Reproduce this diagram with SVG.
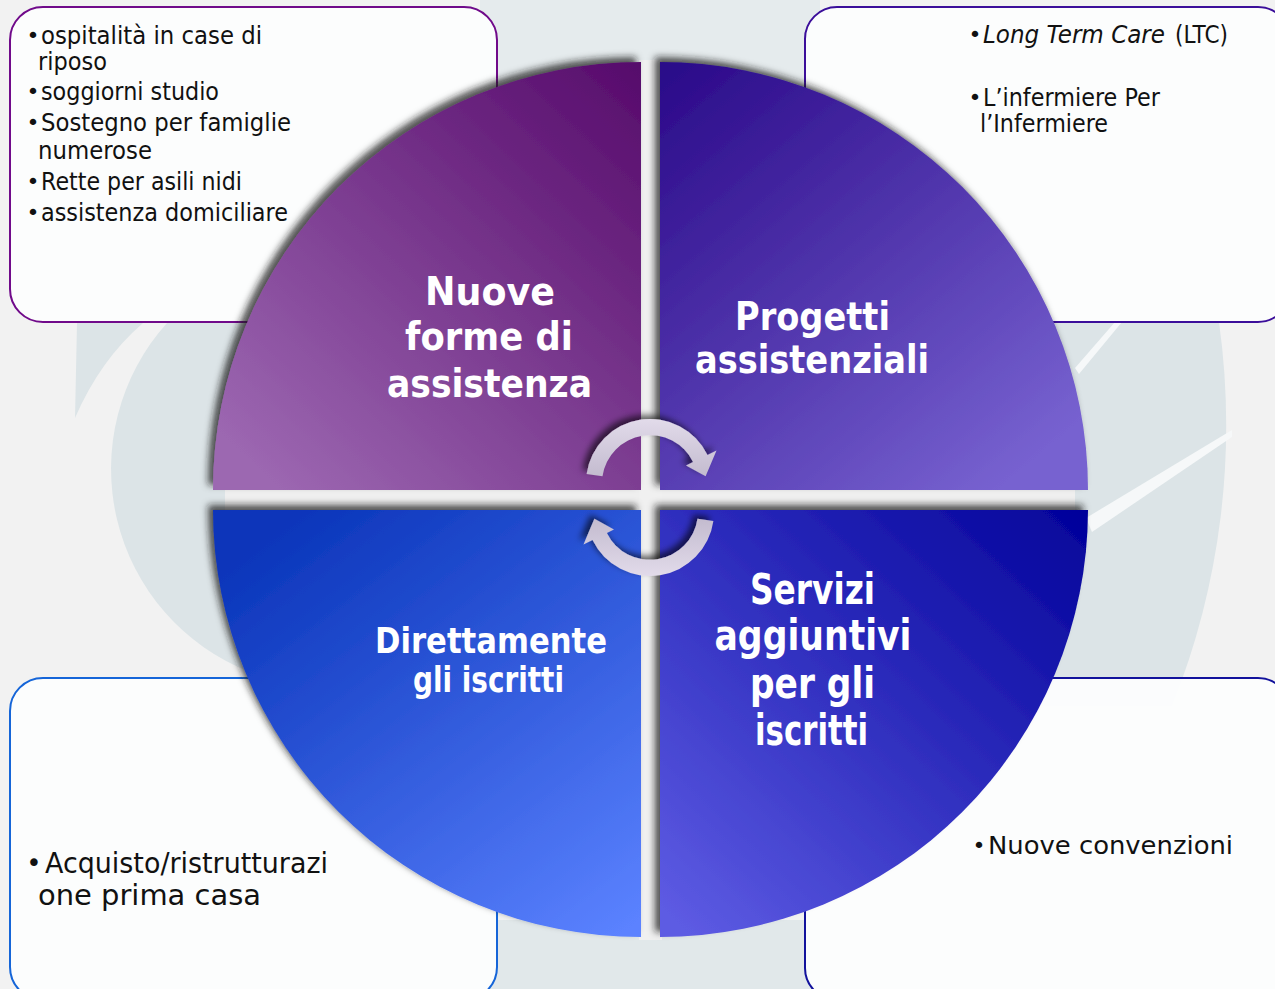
<svg xmlns="http://www.w3.org/2000/svg" width="1275" height="989" viewBox="0 0 1275 989">
<defs>
<style>
.body{font-family:"DejaVu Sans","Liberation Sans",sans-serif;font-size:24px;fill:#111;}
.big{font-size:28px;}
.it{font-style:italic;}
.title{font-family:"DejaVu Sans","Liberation Sans",sans-serif;font-weight:bold;fill:#fff;text-anchor:middle;}
.bul{font-family:"DejaVu Sans",sans-serif;font-size:22px;fill:#111;text-anchor:middle;}
.box{fill:#fdfefe;fill-opacity:0.93;stroke-width:2;}
.bg{fill:#dce4e7;}
</style>
<filter id="sh" filterUnits="userSpaceOnUse" x="150" y="0" width="1000" height="989">
<feGaussianBlur in="SourceAlpha" stdDeviation="3.5"/>
<feOffset dx="-5" dy="-5" result="b"/>
<feFlood flood-color="#1a1a1a" flood-opacity="0.75"/>
<feComposite in2="b" operator="in" result="s"/>
<feMerge><feMergeNode in="s"/><feMergeNode in="SourceGraphic"/></feMerge>
</filter>
<filter id="sha" filterUnits="userSpaceOnUse" x="540" y="380" width="220" height="240">
<feGaussianBlur in="SourceAlpha" stdDeviation="3"/>
<feOffset dx="-4" dy="-4" result="b"/>
<feFlood flood-color="#000" flood-opacity="0.6"/>
<feComposite in2="b" operator="in" result="s"/>
<feMerge><feMergeNode in="s"/><feMergeNode in="SourceGraphic"/></feMerge>
</filter>
<linearGradient id="gTL" gradientUnits="userSpaceOnUse" x1="641" y1="62" x2="260" y2="470">
<stop offset="0" stop-color="#560a6b"/><stop offset="1" stop-color="#9c67b1"/>
</linearGradient>
<linearGradient id="gTR" gradientUnits="userSpaceOnUse" x1="660" y1="62" x2="1010" y2="480">
<stop offset="0" stop-color="#290888"/><stop offset="1" stop-color="#7762d0"/>
</linearGradient>
<linearGradient id="gBL" gradientUnits="userSpaceOnUse" x1="300" y1="510" x2="620" y2="935">
<stop offset="0" stop-color="#0a35ba"/><stop offset="1" stop-color="#5b82ff"/>
</linearGradient>
<linearGradient id="gBR" gradientUnits="userSpaceOnUse" x1="1088" y1="510" x2="690" y2="935">
<stop offset="0" stop-color="#02029a"/><stop offset="1" stop-color="#5d5be3"/>
</linearGradient>
<linearGradient id="gA" x1="0" y1="0" x2="0" y2="1">
<stop offset="0" stop-color="#e2dbea"/><stop offset="1" stop-color="#c3bbcf"/>
</linearGradient>
</defs>

<!-- background -->
<g id="background">
<rect x="0" y="0" width="1275" height="989" fill="#f2f2f2"/>
<rect x="480" y="0" width="340" height="90" fill="#e5ebed"/>
<rect x="480" y="920" width="340" height="69" fill="#e1e8ea"/>
<path class="bg" d="M167,323 A218,218 0 0 0 250,672 L430,672 L430,323 Z"/>
<path class="bg" d="M77,323 L143,323 Q100,360 75,418 Z"/>
<path class="bg" d="M1000,322 L1219,322 A752,752 0 0 1 1172,706 L1000,706 Z"/>
<path d="M1075,368 L1115,322 L1122,322 L1079,374 Z" fill="#f6f8f9"/>
<path d="M1086,518 L1232,430 L1232,437 L1092,532 Z" fill="#f6f8f9"/>
<rect x="225" y="488" width="850" height="24" fill="#efefef"/>
<rect x="639" y="60" width="23" height="880" fill="#f0f0f0"/>
</g>

<!-- text boxes -->
<g id="box-tl">
<rect class="box" x="10" y="7" width="487" height="315" rx="33" stroke="#700a8a"/>
<text class="bul" x="33" y="43">•</text>
<text class="body" x="41" y="44" textLength="221" lengthAdjust="spacingAndGlyphs">ospitalità in case di</text>
<text class="body" x="38" y="70" textLength="69" lengthAdjust="spacingAndGlyphs">riposo</text>
<text class="bul" x="33" y="99">•</text>
<text class="body" x="41" y="100" textLength="178" lengthAdjust="spacingAndGlyphs">soggiorni studio</text>
<text class="bul" x="33" y="130">•</text>
<text class="body" x="41" y="131" textLength="250" lengthAdjust="spacingAndGlyphs">Sostegno per famiglie</text>
<text class="body" x="38" y="159" textLength="114" lengthAdjust="spacingAndGlyphs">numerose</text>
<text class="bul" x="33" y="189">•</text>
<text class="body" x="41" y="190" textLength="201" lengthAdjust="spacingAndGlyphs">Rette per asili nidi</text>
<text class="bul" x="33" y="220">•</text>
<text class="body" x="41" y="221" textLength="247" lengthAdjust="spacingAndGlyphs">assistenza domiciliare</text>
</g>
<g id="box-tr">
<rect class="box" x="805" y="7" width="485" height="315" rx="32" stroke="#3b0e9a"/>
<text class="bul" x="975" y="42">•</text>
<text class="body it" x="983" y="43" textLength="182" lengthAdjust="spacingAndGlyphs">Long Term Care</text>
<text class="body" x="1175" y="43" textLength="53" lengthAdjust="spacingAndGlyphs">(LTC)</text>
<text class="bul" x="975" y="105">•</text>
<text class="body" x="983" y="106" textLength="177" lengthAdjust="spacingAndGlyphs">L’infermiere Per</text>
<text class="body" x="980" y="132" textLength="128" lengthAdjust="spacingAndGlyphs">l’Infermiere</text>
</g>
<g id="box-bl">
<rect class="box" x="10" y="678" width="487" height="322" rx="33" stroke="#1565d8"/>
<text class="bul" x="34" y="872" style="font-size:26px">•</text>
<text class="body big" x="45" y="873" textLength="283" lengthAdjust="spacingAndGlyphs">Acquisto/ristrutturazi</text>
<text class="body big" x="38" y="905" textLength="223" lengthAdjust="spacingAndGlyphs">one prima casa</text>
</g>
<g id="box-br">
<rect class="box" x="805" y="678" width="485" height="322" rx="32" stroke="#12129c"/>
<text class="bul" x="979" y="853">•</text>
<text class="body" x="988" y="854" textLength="245" lengthAdjust="spacingAndGlyphs">Nuove convenzioni</text>
</g>

<!-- quadrants -->
<g id="q-tl">
<path d="M641,490 L213,490 A428,428 0 0 1 641,62 Z" fill="url(#gTL)" filter="url(#sh)"/>
<text class="title" style="font-size:38.5px" x="490" y="305" textLength="130" lengthAdjust="spacingAndGlyphs">Nuove</text>
<text class="title" style="font-size:38.5px" x="489" y="350" textLength="168" lengthAdjust="spacingAndGlyphs">forme di</text>
<text class="title" style="font-size:38.5px" x="489.5" y="397" textLength="205" lengthAdjust="spacingAndGlyphs">assistenza</text>
</g>
<g id="q-tr">
<path d="M660,490 L660,62 A428,428 0 0 1 1088,490 Z" fill="url(#gTR)" filter="url(#sh)"/>
<text class="title" style="font-size:38.5px" x="812.5" y="330" textLength="155" lengthAdjust="spacingAndGlyphs">Progetti</text>
<text class="title" style="font-size:38.5px" x="812" y="373" textLength="234" lengthAdjust="spacingAndGlyphs">assistenziali</text>
</g>
<g id="q-bl">
<path d="M641,510 L641,937 A428,428 0 0 1 213,510 Z" fill="url(#gBL)" filter="url(#sh)"/>
<text class="title" style="font-size:36px" x="491" y="653" textLength="232" lengthAdjust="spacingAndGlyphs">Direttamente</text>
<text class="title" style="font-size:36px" x="488.5" y="692" textLength="151" lengthAdjust="spacingAndGlyphs">gli iscritti</text>
</g>
<g id="q-br">
<path d="M660,510 L1088,510 A428,428 0 0 1 660,937 Z" fill="url(#gBR)" filter="url(#sh)"/>
<text class="title" style="font-size:42px" x="812.5" y="604" textLength="125" lengthAdjust="spacingAndGlyphs">Servizi</text>
<text class="title" style="font-size:42px" x="813" y="650" textLength="197" lengthAdjust="spacingAndGlyphs">aggiuntivi</text>
<text class="title" style="font-size:42px" x="812.5" y="698" textLength="125" lengthAdjust="spacingAndGlyphs">per gli</text>
<text class="title" style="font-size:42px" x="811.5" y="745" textLength="113" lengthAdjust="spacingAndGlyphs">iscritti</text>
</g>

<!-- cycle arrows -->
<g id="connectors" fill="url(#gA)" filter="url(#sha)">
<path id="arrow-top" d="M586.6,474.1 A64,64 0 0 1 707.5,454.9 L716.5,450.6 L705.6,476.2 L686,465.5 L693.1,462 A48,48 0 0 0 602.5,476.3 Z"/>
<path id="arrow-bottom" transform="rotate(180 650 497.5)" d="M586.6,474.1 A64,64 0 0 1 707.5,454.9 L716.5,450.6 L705.6,476.2 L686,465.5 L693.1,462 A48,48 0 0 0 602.5,476.3 Z"/>
</g>
</svg>
